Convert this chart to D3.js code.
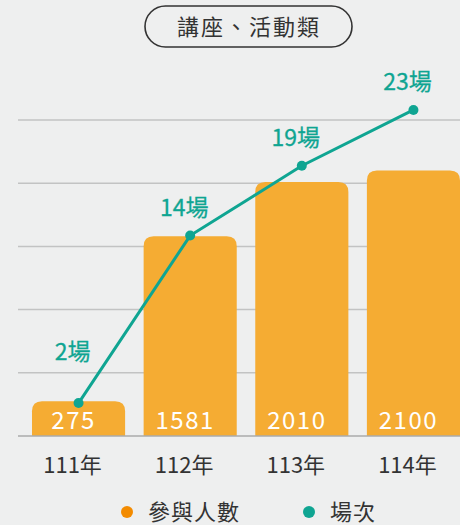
<!DOCTYPE html>
<html>
<head>
<meta charset="utf-8">
<script src="https://cdn.jsdelivr.net/npm/d3@7"></script>
<style>
  html, body { margin: 0; padding: 0; background: #eeefef; }
  svg { display: block; font-family: "Noto Sans CJK TC", "Noto Sans", sans-serif; }
</style>
</head>
<body>
<div id="chart"></div>
<script>
var title = "講座、活動類";
var years = ["111年", "112年", "113年", "114年"];
var people = [275, 1581, 2010, 2100];
var sessions = [2, 14, 19, 23];
var gridValues = [500, 1000, 1500, 2000, 2500];
var legendNames = ["參與人數", "場次"];

function init() {
    var w = 460;
    var h = 525;
    var baseY = 436;

    var svg = d3.select("#chart")
        .append("svg")
        .attr("width", w)
        .attr("height", h);

    svg.append("rect")
        .attr("width", w)
        .attr("height", h)
        .attr("fill", "#eeefef");

    // Title pill
    svg.append("rect")
        .attr("x", 145)
        .attr("y", 6)
        .attr("width", 207)
        .attr("height", 41)
        .attr("rx", 20.5)
        .attr("fill", "none")
        .attr("stroke", "#333")
        .attr("stroke-width", 1.6);

    svg.append("text")
        .attr("x", 249)
        .attr("y", 35)
        .attr("text-anchor", "middle")
        .attr("font-size", 22)
        .attr("letter-spacing", 2)
        .attr("fill", "#333")
        .text(title);

    // Scales
    var xScale = d3.scaleBand()
        .domain(years)
        .range([32, 460])
        .paddingInner(0.166)
        .paddingOuter(0);

    var yScale = d3.scaleLinear()
        .domain([0, 2500])
        .range([baseY, 120]);

    var lineScale = d3.scaleLinear()
        .domain([0, 25])
        .range([431, 82]);

    function cx(i) { return xScale(years[i]) + xScale.bandwidth() / 2; }

    // Gridlines
    svg.selectAll(".grid")
        .data(gridValues)
        .enter()
        .append("line")
        .attr("class", "grid")
        .attr("x1", 18)
        .attr("x2", w)
        .attr("y1", function(d) { return yScale(d); })
        .attr("y2", function(d) { return yScale(d); })
        .attr("stroke", "#c2c3c3")
        .attr("stroke-width", 1.5);

    // Bars with rounded tops
    var r = 10;
    svg.selectAll(".bar")
        .data(people)
        .enter()
        .append("path")
        .attr("class", "bar")
        .attr("fill", "#f5ac33")
        .attr("d", function(d, i) {
            var x0 = xScale(years[i]);
            var x1 = x0 + xScale.bandwidth();
            var y0 = yScale(d);
            var y1 = baseY;
            return "M" + x0 + "," + y1 +
                "V" + (y0 + r) +
                "Q" + x0 + "," + y0 + " " + (x0 + r) + "," + y0 +
                "H" + (x1 - r) +
                "Q" + x1 + "," + y0 + " " + x1 + "," + (y0 + r) +
                "V" + y1 + "Z";
        });

    // Baseline
    svg.append("line")
        .attr("x1", 18)
        .attr("x2", w)
        .attr("y1", baseY)
        .attr("y2", baseY)
        .attr("stroke", "#aaabab")
        .attr("stroke-width", 1.5);

    // Bar values
    svg.selectAll(".val")
        .data(people)
        .enter()
        .append("text")
        .attr("class", "val")
        .attr("x", function(d, i) { return cx(i) - 5; })
        .attr("y", 429)
        .attr("text-anchor", "middle")
        .attr("font-size", 24)
        .attr("letter-spacing", 1.5)
        .attr("fill", "#fff")
        .text(function(d) { return d; });

    // X labels
    svg.selectAll(".xlab")
        .data(years)
        .enter()
        .append("text")
        .attr("class", "xlab")
        .attr("x", function(d, i) { return cx(i) - 6; })
        .attr("y", 473)
        .attr("text-anchor", "middle")
        .attr("font-size", 22)
        .attr("fill", "#333")
        .text(function(d) { return d; });

    // Sessions line
    var line = d3.line()
        .x(function(d, i) { return cx(i); })
        .y(function(d) { return lineScale(d); });

    svg.append("path")
        .datum(sessions)
        .attr("d", line)
        .attr("fill", "none")
        .attr("stroke", "#0fa592")
        .attr("stroke-width", 3);

    svg.selectAll(".dot")
        .data(sessions)
        .enter()
        .append("circle")
        .attr("class", "dot")
        .attr("cx", function(d, i) { return cx(i); })
        .attr("cy", function(d) { return lineScale(d); })
        .attr("r", 5)
        .attr("fill", "#0fa592");

    svg.selectAll(".slab")
        .data(sessions)
        .enter()
        .append("text")
        .attr("class", "slab")
        .attr("x", function(d, i) { return cx(i) - 6; })
        .attr("y", function(d, i) { return lineScale(d) - (i === 0 ? 43 : 20); })
        .attr("text-anchor", "middle")
        .attr("font-size", 23)
        .attr("fill", "#0fa592")
        .attr("stroke", "#0fa592")
        .attr("stroke-width", 0.3)
        .text(function(d) { return d + "場"; });

    // Legend
    var legendColors = ["#f38b00", "#0fa592"];
    var legendX = [127, 309];
    var legend = svg.selectAll(".leg")
        .data(legendNames)
        .enter()
        .append("g")
        .attr("class", "leg")
        .attr("transform", function(d, i) { return "translate(" + legendX[i] + ",512)"; });

    legend.append("circle")
        .attr("r", 6)
        .attr("fill", function(d, i) { return legendColors[i]; });

    legend.append("text")
        .attr("x", 21)
        .attr("y", 8)
        .attr("font-size", 22)
        .attr("letter-spacing", 1)
        .attr("fill", "#333")
        .text(function(d) { return d; });
}

window.onload = init;
</script>
</body>
</html>
